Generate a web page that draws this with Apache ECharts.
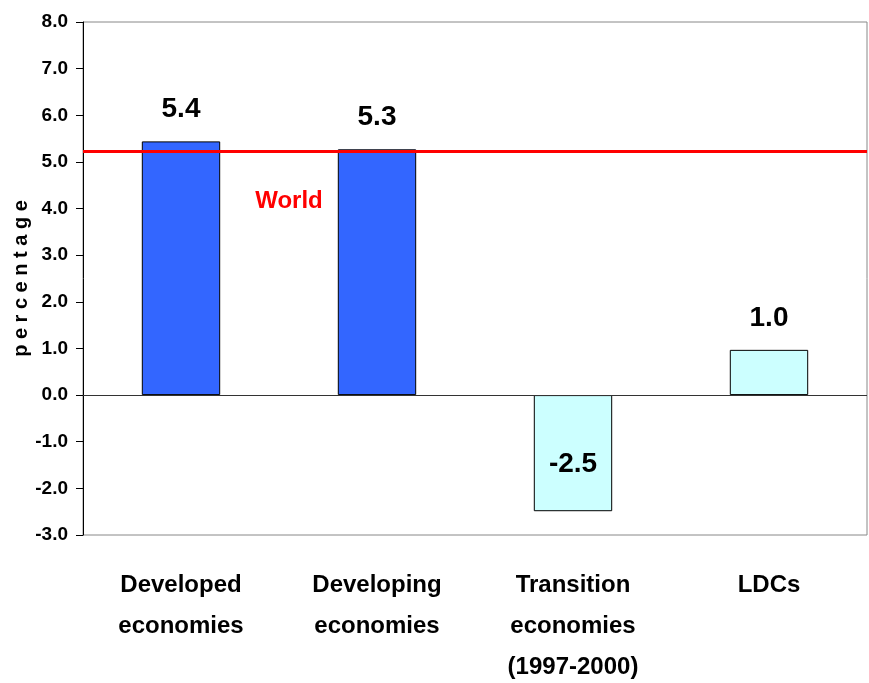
<!DOCTYPE html>
<html><head><meta charset="utf-8">
<script src="https://cdn.jsdelivr.net/npm/echarts@6/dist/echarts.min.js"></script>
<style>html,body{margin:0;padding:0;background:#fff}#c{width:869px;height:683px}</style>
</head><body><div id="c"></div>
<script>
var categories = ['Developed\neconomies', 'Developing\neconomies', 'Transition\neconomies\n(1997-2000)', 'LDCs'];
var values = [5.44, 5.27, -2.49, 0.97];
var barColors = ['#3366FF', '#3366FF', '#CCFFFF', '#CCFFFF'];
var worldValue = 5.22;
var worldLabel = 'World';
var yTicks = {min: -3, max: 8, interval: 1};

var narrow = '"Liberation Sans Narrow","Arial Narrow","Liberation Sans",Arial,sans-serif';
var sans = '"Liberation Sans",Arial,sans-serif';
var chart = echarts.init(document.getElementById('c'));
var data = values.map(function (v, i) {
  var d = {value: v, itemStyle: {color: barColors[i]}};
  if (v < 0) d.label = {position: 'inside', offset: [0, 11]};
  return d;
});
chart.setOption({
  animation: false,
  grid: {left: 83, right: 2, top: 22, bottom: 148, show: true, borderColor: '#888', borderWidth: 1,
    containLabel: false, outerBoundsMode: 'none'},
  xAxis: {
    type: 'category', data: categories,
    axisLine: {show: false}, axisTick: {show: false},
    axisLabel: {margin: 30, fontFamily: narrow, fontWeight: 'bold', fontSize: 24, color: '#000', lineHeight: 41, interval: 0}
  },
  yAxis: {
    type: 'value', min: yTicks.min, max: yTicks.max, interval: yTicks.interval,
    name: 'p e r c e n t a g e', nameLocation: 'middle', nameGap: 52, nameMoveOverlap: false,
    nameTextStyle: {fontFamily: sans, fontWeight: 'bold', fontSize: 20, color: '#000'},
    axisLine: {show: true, lineStyle: {color: '#000', width: 1}},
    axisTick: {show: true, length: 7, lineStyle: {color: '#000'}},
    splitLine: {show: false},
    axisLabel: {margin: 15, fontFamily: sans, fontWeight: 'bold', fontSize: 19, color: '#000',
      formatter: function (v) { return v.toFixed(1); }}
  },
  series: [{
    type: 'bar', data: data, barWidth: '40%',
    itemStyle: {borderColor: '#000', borderWidth: 1},
    label: {show: true, position: 'top', distance: 18, fontFamily: narrow, fontWeight: 'bold', fontSize: 28, color: '#000',
      formatter: function (p) { return p.value.toFixed(1); }},
    markLine: {
      silent: true, symbol: 'none', label: {show: false},
      data: [
        {yAxis: 0, lineStyle: {color: '#333', width: 1, type: 'solid'}},
        {yAxis: worldValue, lineStyle: {color: '#FF0000', width: 3, type: 'solid'}}
      ]
    },
    z: 2
  }]
});
var x0 = chart.convertToPixel({xAxisIndex: 0}, 0);
var x1 = chart.convertToPixel({xAxisIndex: 0}, 1);
var yw = chart.convertToPixel({yAxisIndex: 0}, 4.15);
chart.setOption({graphic: [{type: 'text', x: (x0 + x1) / 2 + 10, y: yw, style: {text: worldLabel, fill: '#FF0000',
  font: 'bold 24px ' + narrow, align: 'center', verticalAlign: 'middle'}}]});
</script></body></html>
